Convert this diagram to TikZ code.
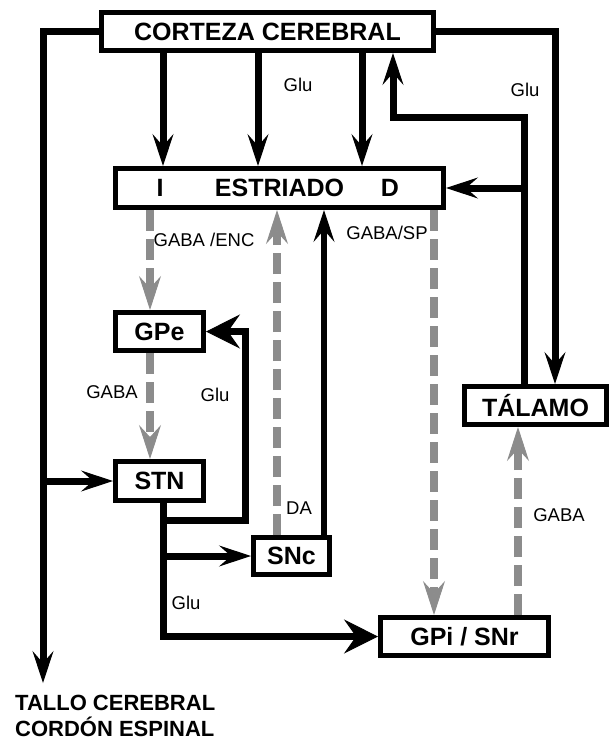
\documentclass[tikz,border=0pt]{standalone}
\usepackage{fontspec}
\setmainfont{Liberation Sans}
\usetikzlibrary{arrows.meta}
\definecolor{gr}{RGB}{140,140,140}
\begin{document}
\begin{tikzpicture}[x=1pt,y=-1pt,
  box/.style={draw,line width=5pt,fill=white,inner sep=0pt,font=\fontsize{25}{30}\selectfont\bfseries},
  boxtxt/.style={inner sep=0pt,font=\fontsize{25}{30}\selectfont\bfseries},
  lbl/.style={inner sep=0pt,font=\fontsize{18.5}{22}\selectfont},
  blk/.style={line width=7pt},
  thinblk/.style={line width=5.5pt},
  gry/.style={draw=gr,line width=8pt,dash pattern=on 21pt off 8pt},
  ba/.style={-{Stealth[length=32pt,width=21pt,inset=12pt,line width=1pt]}},
  bb/.style={-{Stealth[length=34pt,width=34pt,inset=12pt,line width=1pt]}},
  ga/.style={-{Stealth[length=34pt,width=22pt,inset=12pt,line width=1pt,color=gr]}},
]
\useasboundingbox (0,0) rectangle (611,742);

% boxes
\node[box,minimum width=332pt,minimum height=38pt] (corteza) at (267.5,31.5) {CORTEZA CEREBRAL};
\node[box,minimum width=328pt,minimum height=39pt] (estriado) at (279.5,188) {ESTRIADO};
\node[boxtxt] (estI) at (160,188) {I};
\node[boxtxt] (estD) at (390,188) {D};
\node[box,minimum width=88pt,minimum height=38pt] (gpe) at (159.5,331.5) {GPe};
\node[box,minimum width=88pt,minimum height=39pt] (stn) at (159.5,481) {STN};
\node[box,minimum width=76pt,minimum height=37pt] (snc) at (291.5,556) {SNc};
\node[box,minimum width=168pt,minimum height=38pt] (gpi) at (464.5,636.5) {GPi / SNr};
\node[box,minimum width=142pt,minimum height=38pt] (talamo) at (535.5,405.5) {TÁLAMO};

\coordinate (tallo) at (43,683);
\coordinate (b1) at (163,520);
\node[anchor=west,align=left,inner sep=0pt,font=\fontsize{22}{26}\selectfont\bfseries] (tallotxt) at (15,716) {TALLO CEREBRAL\\CORDÓN ESPINAL};

% cortex to striatum
\draw[blk,ba] (corteza.south -| 163,0) -- (estriado.north -| 163,0);
\draw[blk,ba] (corteza.south -| 258,0) -- (estriado.north -| 258,0);
\draw[blk,ba] (corteza.south -| 362,0) -- (estriado.north -| 362,0);

% outer lines
\draw[blk,ba] (corteza.west) -| (tallo);
\draw[blk,ba] (stn.west -| tallo) -- (stn.west);
\draw[blk,ba] (corteza.east) -| (talamo.north -| 555,0);

% thalamus return
\draw[blk,ba] (talamo.north -| 524,0) |- (393,117) -- (corteza.south -| 393,0);
\draw[blk,ba] (estriado.east -| 524,0) -- (estriado.east);

% gray dashed
\draw[gry,ga] (estriado.south -| 150,0) -- (gpe.north -| 150,0);
\draw[gry,ga] (gpe.south -| 150,0) -- (stn.north -| 150,0);
\draw[gry,ga] (snc.north -| 277,0) -- (estriado.south -| 277,0);
\draw[gry,ga] (estriado.south -| 434,0) -- (gpi.north -| 434,0);
\draw[gry,ga] (gpi.north -| 518,0) -- (talamo.south -| 518,0);

% SNc to striatum
\draw[thinblk,ba] (snc.north -| 324,0) -- (estriado.south -| 324,0);

% STN outputs
\draw[blk,bb] (stn.south -| 163,0) |- (gpi.west);
\draw[blk,bb] (b1) -| (gpe.east -| 245,0) -- (gpe.east);
\draw[blk,ba] (snc.west -| 163,0) -- (snc.west);

% labels
\node[lbl] (l1) at (298,85) {Glu};
\node[lbl] (l2) at (525,90) {Glu};
\node[lbl] (l3) at (204,240) {GABA /ENC};
\node[lbl] (l4) at (387,233) {GABA/SP};
\node[lbl] (l5) at (112,392) {GABA};
\node[lbl] (l6) at (215,395) {Glu};
\node[lbl] (l7) at (299,508) {DA};
\node[lbl] (l8) at (559,515) {GABA};
\node[lbl] (l9) at (186,603) {Glu};
\end{tikzpicture}
\end{document}
